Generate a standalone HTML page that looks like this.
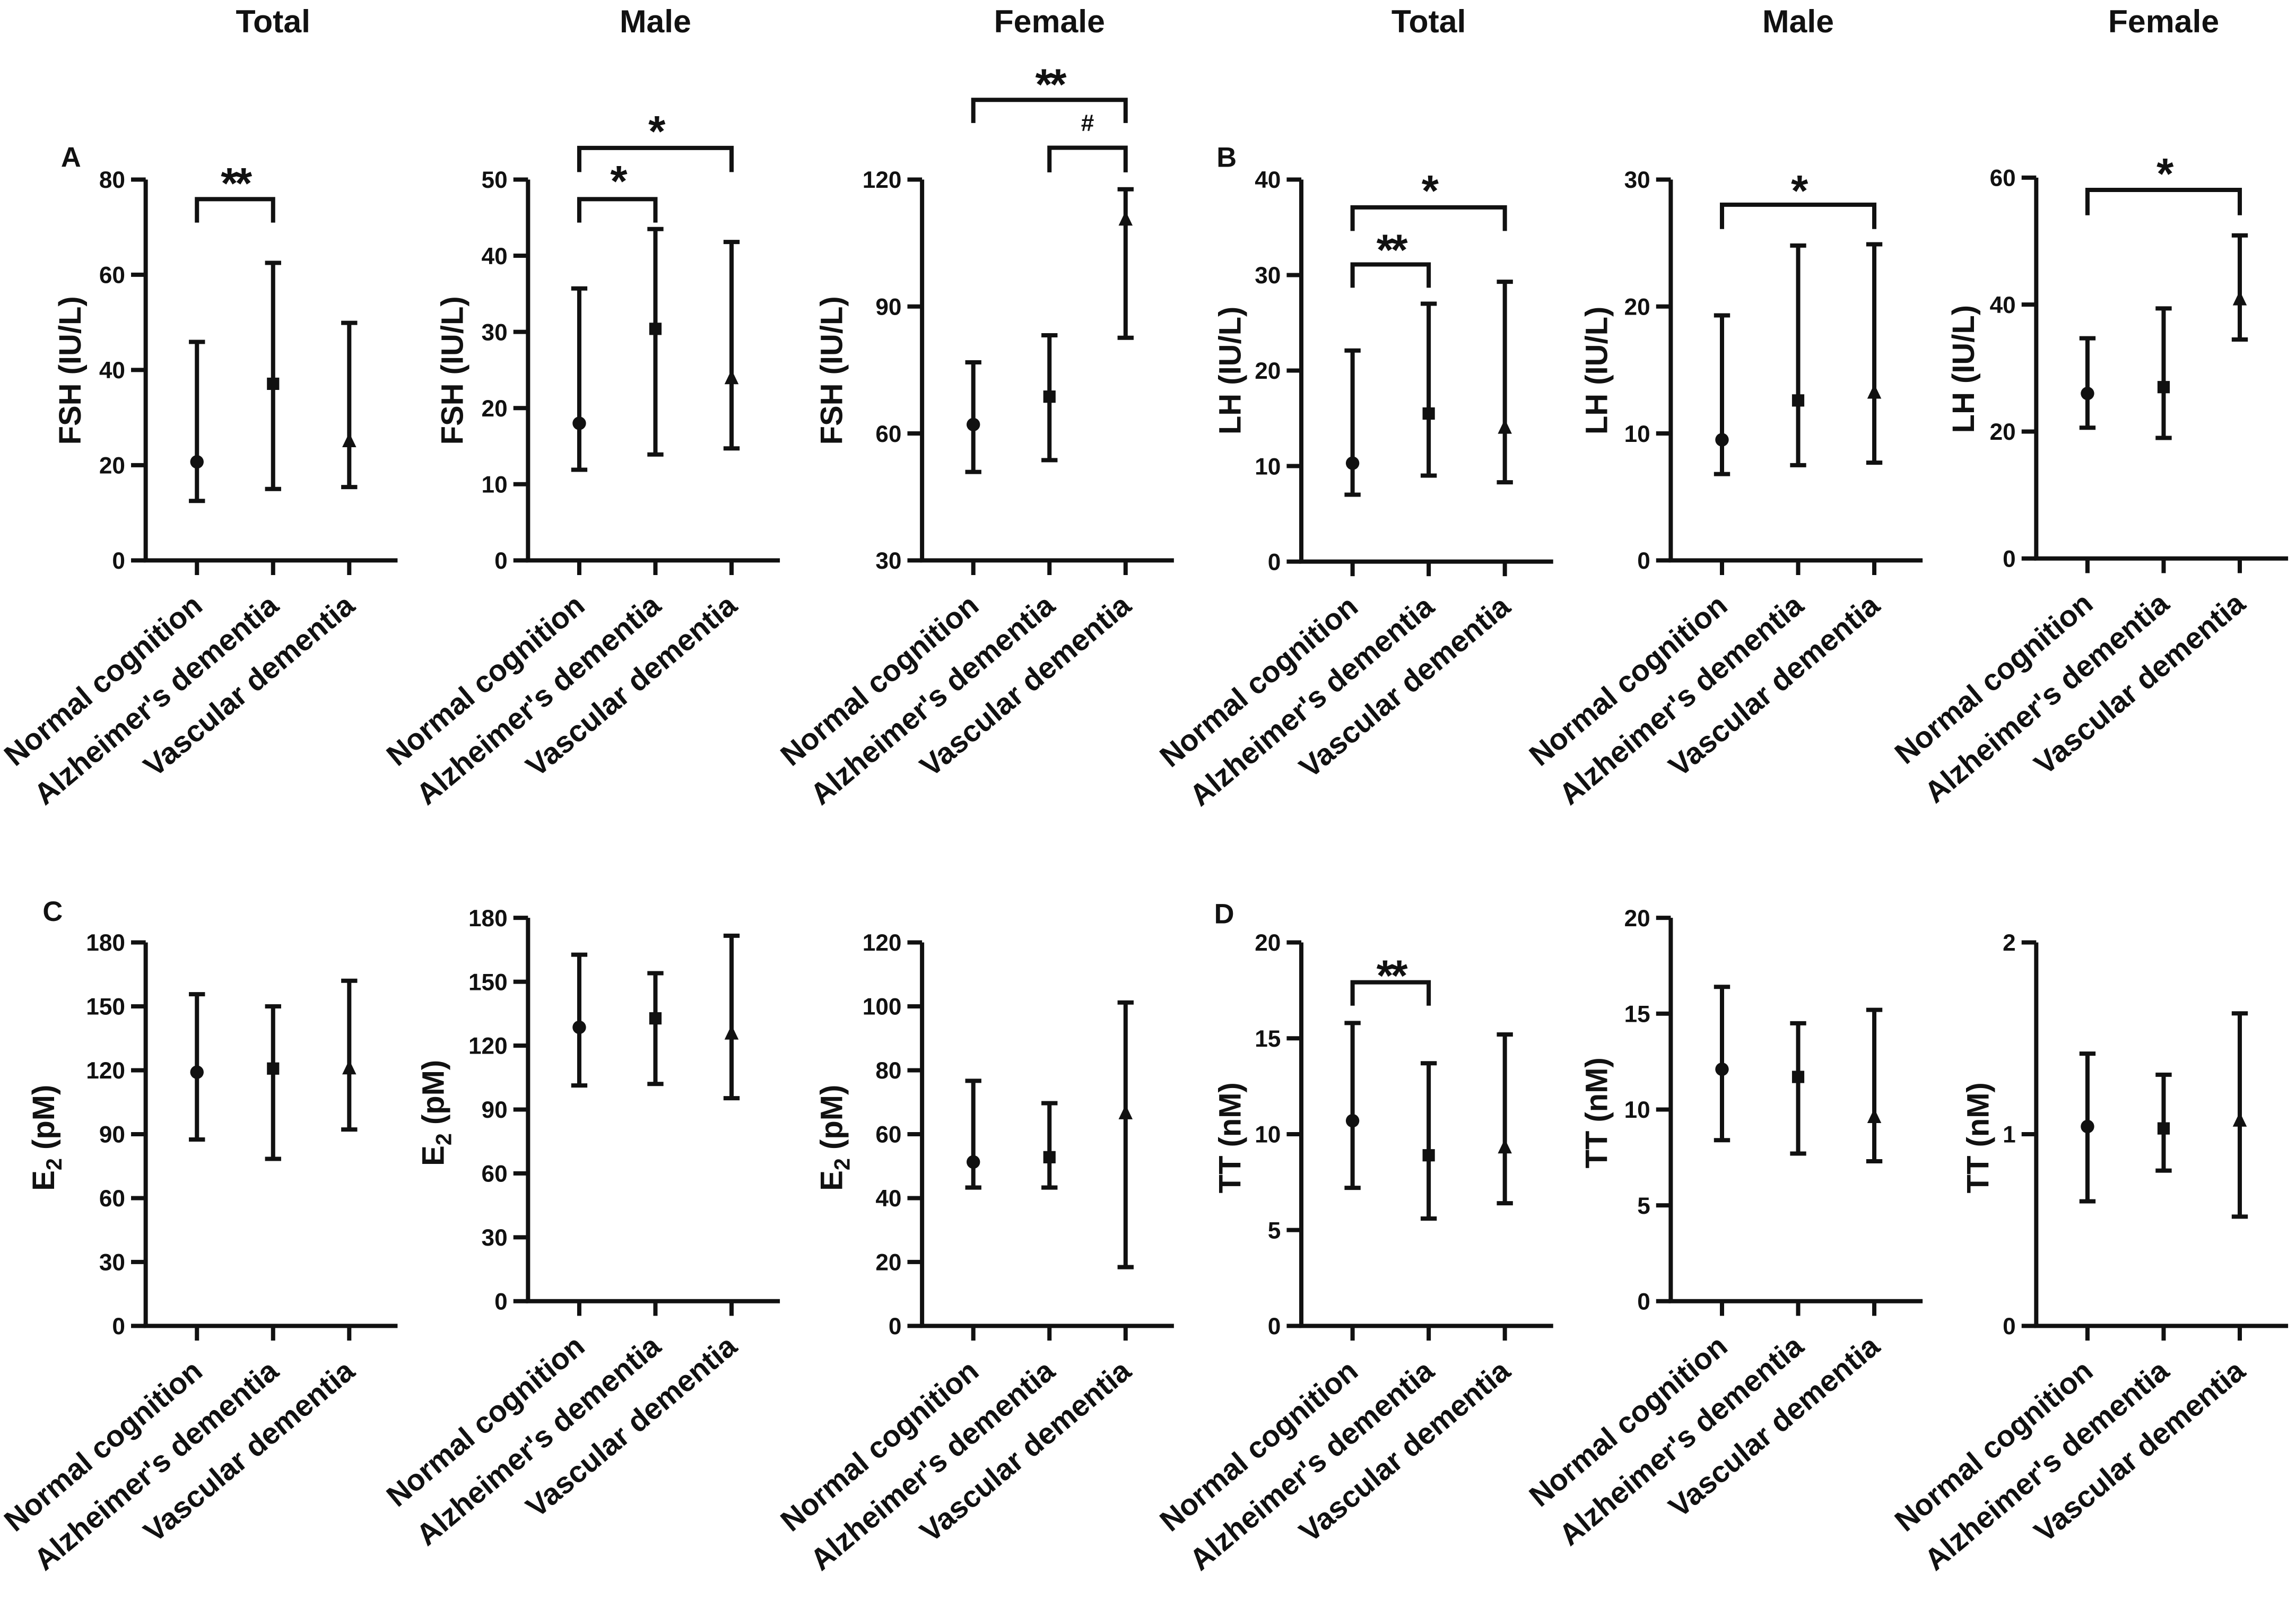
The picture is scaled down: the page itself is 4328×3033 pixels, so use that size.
<!DOCTYPE html>
<html><head><meta charset="utf-8"><style>
html,body{margin:0;padding:0;background:#fff;}
svg{display:block;}
text{font-family:"Liberation Sans",Arial,sans-serif;font-weight:bold;fill:#111;}
</style></head><body>
<svg id="fig" width="4328" height="3033" viewBox="0 0 1568 1098.8" xmlns="http://www.w3.org/2000/svg">
<rect x="0" y="0" width="1568" height="1098.8" fill="#fff"/>
</svg>
<script>
// ---------- data ----------
const categories = ["Normal cognition", "Alzheimer's dementia", "Vascular dementia"];
const fshTotalMean = [20.7, 37.1, 25.0];
const fshTotalLow = [12.5, 15.0, 15.4];
const fshTotalHigh = [45.9, 62.5, 49.9];
const fshMaleMean = [18.0, 30.4, 23.9];
const fshMaleLow = [11.9, 13.9, 14.7];
const fshMaleHigh = [35.7, 43.5, 41.8];
const fshFemaleMean = [62.1, 68.7, 110.5];
const fshFemaleLow = [50.9, 53.7, 82.6];
const fshFemaleHigh = [76.8, 83.2, 117.7];
const lhTotalMean = [10.3, 15.5, 14.0];
const lhTotalLow = [7.0, 9.0, 8.3];
const lhTotalHigh = [22.1, 27.0, 29.3];
const lhMaleMean = [9.5, 12.6, 13.2];
const lhMaleLow = [6.8, 7.5, 7.7];
const lhMaleHigh = [19.3, 24.8, 24.9];
const lhFemaleMean = [26.0, 27.0, 40.8];
const lhFemaleLow = [20.6, 19.0, 34.5];
const lhFemaleHigh = [34.7, 39.4, 50.9];
const e2TotalMean = [119.1, 120.8, 120.8];
const e2TotalLow = [87.5, 78.4, 92.2];
const e2TotalHigh = [155.7, 150.0, 162.0];
const e2MaleMean = [128.6, 132.8, 125.6];
const e2MaleLow = [101.3, 102.0, 95.3];
const e2MaleHigh = [162.7, 154.0, 171.6];
const e2FemaleMean = [51.3, 52.8, 66.5];
const e2FemaleLow = [43.3, 43.3, 18.4];
const e2FemaleHigh = [76.7, 69.7, 101.2];
const ttTotalMean = [10.7, 8.9, 9.3];
const ttTotalLow = [7.2, 5.6, 6.4];
const ttTotalHigh = [15.8, 13.7, 15.2];
const ttMaleMean = [12.1, 11.7, 9.6];
const ttMaleLow = [8.4, 7.7, 7.3];
const ttMaleHigh = [16.4, 14.5, 15.2];
const ttFemaleMean = [1.04, 1.03, 1.07];
const ttFemaleLow = [0.65, 0.81, 0.57];
const ttFemaleHigh = [1.42, 1.31, 1.63];
const fshTotalTicks = [0, 20, 40, 60, 80];
const fshMaleTicks = [0, 10, 20, 30, 40, 50];
const fshFemaleTicks = [30, 60, 90, 120];
const lhTotalTicks = [0, 10, 20, 30, 40];
const lhMaleTicks = [0, 10, 20, 30];
const lhFemaleTicks = [0, 20, 40, 60];
const e2TotalTicks = [0, 30, 60, 90, 120, 150, 180];
const e2MaleTicks = [0, 30, 60, 90, 120, 150, 180];
const e2FemaleTicks = [0, 20, 40, 60, 80, 100, 120];
const ttTotalTicks = [0, 5, 10, 15, 20];
const ttMaleTicks = [0, 5, 10, 15, 20];
const ttFemaleTicks = [0, 1, 2];

// ---------- layout ----------
const NS = "http://www.w3.org/2000/svg";
const svg = document.getElementById("fig");
const SW = 2.9;
function mk(tag, attrs, parent) {
  const e = document.createElementNS(NS, tag);
  for (const k in attrs) e.setAttribute(k, attrs[k]);
  (parent || svg).appendChild(e);
  return e;
}
const panels = [
  {id:"fsh-total", ax:99.5, yT:122.6, yB:382.7, ticks:fshTotalTicks, mean:fshTotalMean, lo:fshTotalLow, hi:fshTotalHigh, label:"FSH (IU/L)", lOff:52, lY:253, title:"Total", letter:"A", lx:48.5, ly:107,
   sig:[{a:0,b:1,y:136,leg:152,t:"**",ty:119.5}]},
  {id:"fsh-male", ax:360.6, yT:122.6, yB:382.7, ticks:fshMaleTicks, mean:fshMaleMean, lo:fshMaleLow, hi:fshMaleHigh, label:"FSH (IU/L)", lOff:52, lY:253, title:"Male",
   sig:[{a:0,b:1,y:136,leg:152,t:"*",ty:118},{a:0,b:2,y:101,leg:117.5,t:"*",ty:84}]},
  {id:"fsh-female", ax:629.7, yT:122.6, yB:382.7, ticks:fshFemaleTicks, mean:fshFemaleMean, lo:fshFemaleLow, hi:fshFemaleHigh, label:"FSH (IU/L)", lOff:62, lY:253, title:"Female",
   sig:[{a:0,b:2,y:68.2,leg:84,t:"**",ty:52},{a:1,b:2,y:100.9,leg:117.7,t:"#",ty:84,hash:true}]},
  {id:"lh-total", ax:888.7, yT:122.6, yB:383.5, ticks:lhTotalTicks, mean:lhTotalMean, lo:lhTotalLow, hi:lhTotalHigh, label:"LH (IU/L)", lOff:49, lY:253, title:"Total", letter:"B", lx:837.7, ly:107,
   sig:[{a:0,b:2,y:141.6,leg:157.7,t:"*",ty:124.6},{a:0,b:1,y:180.6,leg:196.5,t:"**",ty:165}]},
  {id:"lh-male", ax:1141, yT:122.6, yB:382.7, ticks:lhMaleTicks, mean:lhMaleMean, lo:lhMaleLow, hi:lhMaleHigh, label:"LH (IU/L)", lOff:51, lY:253, title:"Male",
   sig:[{a:0,b:2,y:139.8,leg:156.4,t:"*",ty:124.6}]},
  {id:"lh-female", ax:1390.6, yT:121.3, yB:381.4, ticks:lhFemaleTicks, mean:lhFemaleMean, lo:lhFemaleLow, hi:lhFemaleHigh, label:"LH (IU/L)", lOff:50, lY:252, title:"Female",
   sig:[{a:0,b:2,y:129.7,leg:147,t:"*",ty:113}]},
  {id:"e2-total", ax:99.5, yT:643.6, yB:905.5, ticks:e2TotalTicks, mean:e2TotalMean, lo:e2TotalLow, hi:e2TotalHigh, label:"E2", lOff:70, lY:777, letter:"C", lx:36, ly:622, sig:[]},
  {id:"e2-male", ax:360.6, yT:626.8, yB:888.6, ticks:e2MaleTicks, mean:e2MaleMean, lo:e2MaleLow, hi:e2MaleHigh, label:"E2", lOff:65, lY:760, sig:[]},
  {id:"e2-female", ax:629.7, yT:643.6, yB:905.5, ticks:e2FemaleTicks, mean:e2FemaleMean, lo:e2FemaleLow, hi:e2FemaleHigh, label:"E2", lOff:62, lY:777, sig:[]},
  {id:"tt-total", ax:888.7, yT:643.6, yB:905.5, ticks:ttTotalTicks, mean:ttTotalMean, lo:ttTotalLow, hi:ttTotalHigh, label:"TT (nM)", lOff:49, lY:777, letter:"D", lx:836, ly:623.6,
   sig:[{a:0,b:1,y:670.8,leg:686.8,t:"**",ty:660.5}]},
  {id:"tt-male", ax:1141, yT:626.8, yB:888.6, ticks:ttMaleTicks, mean:ttMaleMean, lo:ttMaleLow, hi:ttMaleHigh, label:"TT (nM)", lOff:51, lY:760, sig:[]},
  {id:"tt-female", ax:1390.6, yT:643.6, yB:905.5, ticks:ttFemaleTicks, mean:ttFemaleMean, lo:ttFemaleLow, hi:ttFemaleHigh, label:"TT (nM)", lOff:40, lY:777, sig:[]}
];
const markers = ["circle", "square", "triangle"];

panels.forEach(p => {
  const g = mk("g", {});
  
  
  const vmin = p.ticks[0], vmax = p.ticks[p.ticks.length - 1];
  const yScale = v => p.yB - (v - vmin) / (vmax - vmin) * (p.yB - p.yT);
  const xScale = i => p.ax + 35 + i * 52;
  const ya = mk("line", {x1:p.ax, y1:p.yT, x2:p.ax, y2:p.yB, stroke:"#111", "stroke-width":SW}, g);
  
  
  const xa = mk("line", {x1:p.ax - SW/2, y1:p.yB, x2:p.ax + 172, y2:p.yB, stroke:"#111", "stroke-width":SW}, g);
  
  
  p.ticks.forEach(t => {
    const y = yScale(t);
    const tl = mk("line", {x1:p.ax - 10, y1:y, x2:p.ax, y2:y, stroke:"#111", "stroke-width":SW}, g);
    
    
    const tx = mk("text", {x:p.ax - 14, y:y + 5.7, "font-size":16, "text-anchor":"end"}, g);
    tx.textContent = String(t);
    
    
  });
  categories.forEach((c, i) => {
    const x = xScale(i);
    const tk = mk("line", {x1:x, y1:p.yB, x2:x, y2:p.yB + 10, stroke:"#111", "stroke-width":SW}, g);
    
    
    const lx = x + 5, ly = p.yB + 33;
    const ct = mk("text", {x:lx, y:ly, "font-size":20.5, "text-anchor":"end", transform:`rotate(-40 ${lx} ${ly})`}, g);
    ct.textContent = c;
    
    
    const yh = yScale(p.hi[i]), yl = yScale(p.lo[i]), ym = yScale(p.mean[i]);
    const eb = mk("path", {d:`M${x} ${yh}V${yl}M${x-5.5} ${yh}H${x+5.5}M${x-5.5} ${yl}H${x+5.5}`, stroke:"#111", "stroke-width":SW, fill:"none"}, g);
    
    
    let m;
    if (markers[i] === "circle") m = mk("circle", {cx:x, cy:ym, r:4.6, fill:"#111"}, g);
    else if (markers[i] === "square") m = mk("rect", {x:x - 4.2, y:ym - 4.2, width:8.4, height:8.4, fill:"#111"}, g);
    else m = mk("path", {d:`M${x} ${ym-6}L${x+4.8} ${ym+4}L${x-4.8} ${ym+4}Z`, fill:"#111"}, g);
    
    
  });
  const cx = p.ax - p.lOff;
  const yl = mk("text", {x:cx, y:p.lY + 7.5, "font-size":21, "text-anchor":"middle", transform:`rotate(-90 ${cx} ${p.lY})`}, g);
  if (p.label === "E2") {
    yl.appendChild(document.createTextNode("E"));
    const s = mk("tspan", {"font-size":15, dy:5}, yl); s.textContent = "2";
    const r = mk("tspan", {dy:-5}, yl); r.textContent = " (pM)";
  } else yl.textContent = p.label;
  
  
  if (p.title) {
    const tt = mk("text", {x:xScale(1), y:22, "font-size":22, "text-anchor":"middle"}, g);
    tt.textContent = p.title;
    
    
  }
  if (p.letter) {
    const lt = mk("text", {x:p.lx, y:p.ly + 7, "font-size":19, "text-anchor":"middle"}, g);
    lt.textContent = p.letter;
    
    
  }
  p.sig.forEach(s => {
    const xa1 = xScale(s.a), xb1 = xScale(s.b);
    const br = mk("path", {d:`M${xa1} ${s.leg}V${s.y}H${xb1}V${s.leg}`, stroke:"#111", "stroke-width":SW, fill:"none"}, g);
    
    
    let st;
    if (s.hash) st = mk("text", {x:(xa1 + xb1) / 2, y:s.ty + 5.5, "font-size":16, "font-weight":"normal", "text-anchor":"middle"}, g);
    else st = mk("text", {x:(xa1 + xb1) / 2, y:s.ty + 16, "font-size":30, "text-anchor":"middle", "letter-spacing":"-2"}, g);
    st.textContent = s.t;
    
    
  });
});
</script>
</body></html>
